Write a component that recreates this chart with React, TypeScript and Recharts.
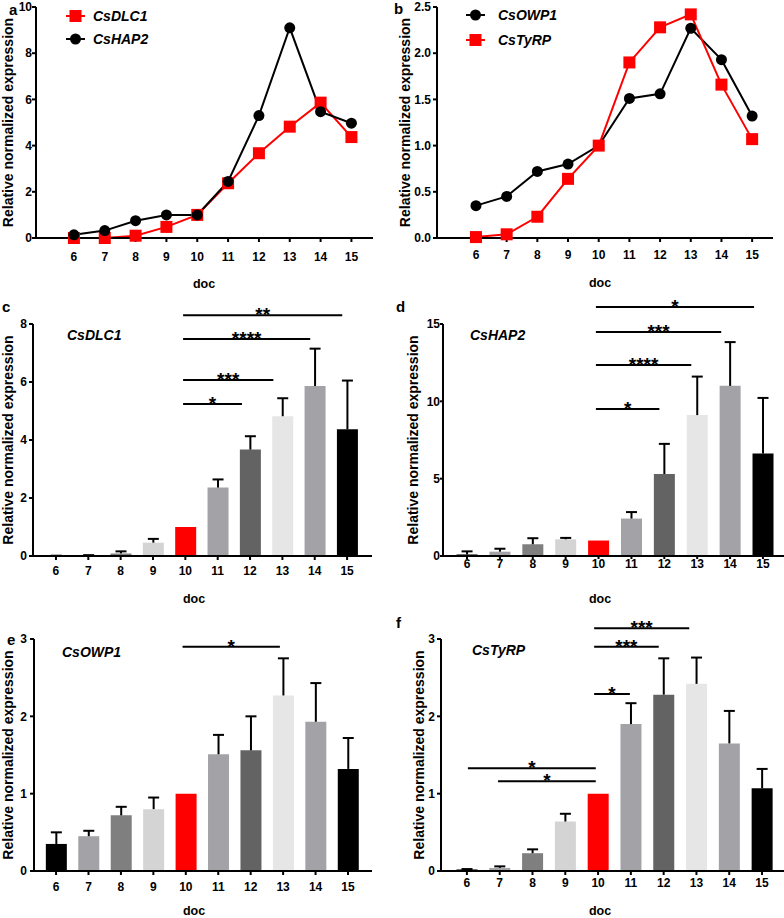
import React from "react";
import { LineChart, Line, BarChart, Bar, Cell, XAxis, YAxis, ReferenceLine, Legend } from "recharts";

const days = [6, 7, 8, 9, 10, 11, 12, 13, 14, 15];

// panel a (line)
const dlc1Line = [0, 0, 0.1, 0.48, 1.0, 2.37, 3.67, 4.82, 5.86, 4.37];
const hap2Line = [0.14, 0.32, 0.75, 1.0, 1.0, 2.45, 5.3, 9.1, 5.47, 4.97];
// panel b (line)
const owp1Line = [0.35, 0.45, 0.72, 0.8, 1.0, 1.51, 1.56, 2.27, 1.93, 1.32];
const tyrpLine = [0.01, 0.04, 0.23, 0.64, 1.0, 1.9, 2.28, 2.42, 1.66, 1.07];

// panels c-f (bars, mean + SD)
const dlc1Mean = [0.005, 0.01, 0.09, 0.46, 1.0, 2.36, 3.67, 4.82, 5.86, 4.37];
const dlc1Sd = [0.005, 0.02, 0.07, 0.13, 0, 0.28, 0.46, 0.62, 1.29, 1.68];
const hap2Mean = [0.1, 0.28, 0.76, 1.08, 1.0, 2.42, 5.3, 9.11, 11.0, 6.62];
const hap2Sd = [0.2, 0.19, 0.39, 0.09, 0, 0.42, 1.95, 2.49, 2.83, 3.6];
const owp1Mean = [0.35, 0.45, 0.72, 0.8, 1.0, 1.51, 1.56, 2.27, 1.93, 1.32];
const owp1Sd = [0.15, 0.07, 0.11, 0.15, 0, 0.25, 0.44, 0.48, 0.5, 0.4];
const tyrpMean = [0.02, 0.04, 0.23, 0.64, 1.0, 1.9, 2.28, 2.42, 1.65, 1.07];
const tyrpSd = [0.005, 0.02, 0.05, 0.1, 0, 0.27, 0.47, 0.34, 0.42, 0.25];

const barColors = ["#000000", "#a3a2a7", "#7f7f7f", "#d4d4d4", "#ff0000", "#a3a2a7", "#636363", "#e6e6e6", "#a3a2a7", "#000000"];

// significance brackets: x in doc units, y in expression units
const sigC = [
  { from: 9.93, to: 14.85, y: 8.3, stars: "**" },
  { from: 9.93, to: 13.86, y: 7.48, stars: "****" },
  { from: 9.93, to: 12.72, y: 6.07, stars: "***" },
  { from: 9.93, to: 11.75, y: 5.24, stars: "*" },
];
const sigD = [
  { from: 9.92, to: 14.73, y: 16.1, stars: "*" },
  { from: 9.92, to: 13.73, y: 14.48, stars: "***" },
  { from: 9.92, to: 12.82, y: 12.35, stars: "****" },
  { from: 9.92, to: 11.85, y: 9.5, stars: "*" },
];
const sigE = [{ from: 9.9, to: 12.9, y: 2.9, stars: "*" }];
const sigF = [
  { from: 9.88, to: 12.78, y: 3.14, stars: "***" },
  { from: 9.88, to: 11.85, y: 2.9, stars: "***" },
  { from: 9.88, to: 10.97, y: 2.29, stars: "*" },
  { from: 6.03, to: 9.93, y: 1.33, stars: "*" },
  { from: 6.95, to: 9.93, y: 1.16, stars: "*" },
];

const FONT = "'Liberation Sans', Arial, sans-serif";
const tickStyle = { fill: "#000", fontSize: 12, fontWeight: "bold" };
const yTitle = "Relative normalized expression";

const squareDot = (p: any) => (
  <rect key={`sq-${p.index}`} x={p.cx - 6} y={p.cy - 6} width={12} height={12} fill="#ff0000" />
);
const circleDot = (p: any) => <circle key={`ci-${p.index}`} cx={p.cx} cy={p.cy} r={5.5} fill="#000" />;

const legendContent = (textX: number, rowGap: number) => (props: any) => (
  <svg width={140} height={54} style={{ overflow: "visible" }}>
    {(props.payload || []).map((p: any, i: number) => {
      const cy = 12 + i * rowGap;
      return (
        <g key={p.value}>
          <line x1={0} x2={19} y1={cy} y2={cy} stroke={p.color} strokeWidth={2} />
          {p.type === "square" ? (
            <rect x={3.5} y={cy - 6} width={12} height={12} fill={p.color} />
          ) : (
            <circle cx={9.5} cy={cy} r={5.5} fill={p.color} />
          )}
          <text x={textX} y={cy + 5} fontSize={14} fontWeight="bold" fontStyle="italic" fill="#000">
            {p.value}
          </text>
        </g>
      );
    })}
  </svg>
);

const starLabel = (text: string) => (p: any) => {
  const vb = p.viewBox || {};
  return (
    <text x={vb.x + vb.width / 2} y={vb.y + 6} textAnchor="middle" fontSize={19} fontWeight="bold" fill="#000">
      {text}
    </text>
  );
};

function ErrorCap(props: any) {
  const { x, y, width, height } = props;
  if (!height || height <= 0) return null;
  const cx = x + width / 2;
  return (
    <g>
      <line x1={cx} x2={cx} y1={y} y2={y + height} stroke="#000" strokeWidth={2} />
      <line x1={cx - 5.5} x2={cx + 5.5} y1={y} y2={y} stroke="#000" strokeWidth={2} />
    </g>
  );
}

type BarCfg = {
  left: number;
  top: number;
  marginTop: number;
  marginRight: number;
  yWidth: number;
  xHeight: number;
  xDomain: number[];
  yDomain: number[];
  yTicks: number[];
  xTickSize: number;
  xTickMargin: number;
  yTickSize: number;
  yTickMargin: number;
  yLabelOffset: number;
  mean: number[];
  sd: number[];
  sig: { from: number; to: number; y: number; stars: string }[];
};

function BarPanel(c: BarCfg) {
  const data = days.map((d, i) => ({ doc: d, mean: c.mean[i], sd: c.sd[i] }));
  return (
    <div style={{ position: "absolute", left: c.left, top: c.top }}>
      <BarChart width={392} height={318} data={data} margin={{ top: c.marginTop, right: c.marginRight, left: 0, bottom: 0 }}>
        <XAxis
          type="number"
          dataKey="doc"
          domain={c.xDomain}
          ticks={days}
          interval={0}
          height={c.xHeight}
          stroke="#000"
          strokeWidth={2}
          tickSize={c.xTickSize}
          tickMargin={c.xTickMargin}
          tick={tickStyle}
        />
        <YAxis
          type="number"
          domain={c.yDomain}
          ticks={c.yTicks}
          interval={0}
          width={c.yWidth}
          stroke="#000"
          strokeWidth={2}
          tickSize={c.yTickSize}
          tickMargin={c.yTickMargin}
          tick={tickStyle}
          label={{
            value: yTitle,
            angle: -90,
            position: "insideLeft",
            offset: c.yLabelOffset,
            fontSize: 14,
            fontWeight: "bold",
            fill: "#000",
            style: { textAnchor: "middle" },
          }}
        />
        <Bar dataKey="mean" stackId="s" barSize={21} isAnimationActive={false}>
          {data.map((d, i) => (
            <Cell key={d.doc} fill={barColors[i]} />
          ))}
        </Bar>
        <Bar dataKey="sd" stackId="s" barSize={21} isAnimationActive={false} shape={ErrorCap} />
        {c.sig.map((s, i) => (
          <ReferenceLine
            key={i}
            segment={[
              { x: s.from, y: s.y },
              { x: s.to, y: s.y },
            ]}
            ifOverflow="visible"
            stroke="#000"
            strokeWidth={2}
            label={starLabel(s.stars)}
          />
        ))}
      </BarChart>
    </div>
  );
}

export default function App() {
  const dataA = days.map((d, i) => ({ doc: d, CsDLC1: dlc1Line[i], CsHAP2: hap2Line[i] }));
  const dataB = days.map((d, i) => ({ doc: d, CsOWP1: owp1Line[i], CsTyRP: tyrpLine[i] }));

  const overlayText = [
    { t: "a", x: 9, y: 15, size: 15, italic: false, anchor: "start" },
    { t: "b", x: 394, y: 14, size: 15, italic: false, anchor: "start" },
    { t: "c", x: 2, y: 312, size: 15, italic: false, anchor: "start" },
    { t: "d", x: 396, y: 312, size: 15, italic: false, anchor: "start" },
    { t: "e", x: 7, y: 645, size: 15, italic: false, anchor: "start" },
    { t: "f", x: 396, y: 628, size: 15, italic: false, anchor: "start" },
    { t: "CsDLC1", x: 67, y: 340, size: 14, italic: true, anchor: "start" },
    { t: "CsHAP2", x: 470, y: 340, size: 14, italic: true, anchor: "start" },
    { t: "CsOWP1", x: 62, y: 657, size: 14, italic: true, anchor: "start" },
    { t: "CsTyRP", x: 472, y: 655, size: 14, italic: true, anchor: "start" },
    { t: "doc", x: 204, y: 288, size: 12.5, italic: false, anchor: "middle" },
    { t: "doc", x: 600, y: 287, size: 12.5, italic: false, anchor: "middle" },
    { t: "doc", x: 194, y: 603, size: 12.5, italic: false, anchor: "middle" },
    { t: "doc", x: 600, y: 603, size: 12.5, italic: false, anchor: "middle" },
    { t: "doc", x: 194, y: 915, size: 12.5, italic: false, anchor: "middle" },
    { t: "doc", x: 600, y: 915, size: 12.5, italic: false, anchor: "middle" },
  ];

  return (
    <div style={{ position: "absolute", left: 0, top: 0, width: 784, height: 918, background: "#fff", fontFamily: FONT, overflow: "hidden" }}>
      {/* a */}
      <div style={{ position: "absolute", left: 0, top: 0 }}>
        <LineChart width={392} height={290} data={dataA} margin={{ top: 7, right: 19, left: 0, bottom: 0 }}>
          <XAxis type="number" dataKey="doc" domain={[4.77, 15.7]} ticks={days} interval={0} height={52} stroke="#000" strokeWidth={2} tickSize={4} tickMargin={10} tick={tickStyle} />
          <YAxis
            type="number"
            domain={[0, 10]}
            ticks={[0, 2, 4, 6, 8, 10]}
            interval={0}
            width={36}
            stroke="#000"
            strokeWidth={2}
            tickSize={4}
            tickMargin={0}
            tick={tickStyle}
            label={{ value: yTitle, angle: -90, position: "insideLeft", offset: 8, fontSize: 14, fontWeight: "bold", fill: "#000", style: { textAnchor: "middle" } }}
          />
          <Legend layout="vertical" align="center" verticalAlign="middle" wrapperStyle={{ left: 66, top: 4, width: 150 }} content={legendContent(27, 23)} />
          <Line dataKey="CsDLC1" type="linear" stroke="#ff0000" strokeWidth={2} dot={squareDot} legendType="square" isAnimationActive={false} />
          <Line dataKey="CsHAP2" type="linear" stroke="#000" strokeWidth={2} dot={circleDot} legendType="circle" isAnimationActive={false} />
        </LineChart>
      </div>
      {/* b */}
      <div style={{ position: "absolute", left: 392, top: 0 }}>
        <LineChart width={392} height={290} data={dataB} margin={{ top: 7, right: 11, left: 0, bottom: 0 }}>
          <XAxis type="number" dataKey="doc" domain={[4.73, 15.68]} ticks={days} interval={0} height={52} stroke="#000" strokeWidth={2} tickSize={4} tickMargin={8} tick={tickStyle} />
          <YAxis
            type="number"
            domain={[0, 2.5]}
            ticks={[0, 0.5, 1, 1.5, 2, 2.5]}
            interval={0}
            width={45}
            stroke="#000"
            strokeWidth={2}
            tickSize={4}
            tickMargin={2}
            tick={tickStyle}
            tickFormatter={(v: number) => v.toFixed(1)}
            label={{ value: yTitle, angle: -90, position: "insideLeft", offset: 13, fontSize: 14, fontWeight: "bold", fill: "#000", style: { textAnchor: "middle" } }}
          />
          <Legend layout="vertical" align="center" verticalAlign="middle" wrapperStyle={{ left: 74, top: 3, width: 150 }} content={legendContent(32, 25)} />
          <Line dataKey="CsOWP1" type="linear" stroke="#000" strokeWidth={2} dot={circleDot} legendType="circle" isAnimationActive={false} />
          <Line dataKey="CsTyRP" type="linear" stroke="#ff0000" strokeWidth={2} dot={squareDot} legendType="square" isAnimationActive={false} />
        </LineChart>
      </div>
      <BarPanel left={0} top={290} marginTop={34} marginRight={20} yWidth={33} xHeight={52} xDomain={[5.29, 15.77]} yDomain={[0, 8]} yTicks={[0, 2, 4, 6, 8]} xTickSize={4} xTickMargin={6} yTickSize={4} yTickMargin={2} yLabelOffset={8} mean={dlc1Mean} sd={dlc1Sd} sig={sigC} />
      <BarPanel left={392} top={290} marginTop={34} marginRight={0} yWidth={51} xHeight={52} xDomain={[5.27, 15.64]} yDomain={[0, 15]} yTicks={[0, 5, 10, 15]} xTickSize={3} xTickMargin={0} yTickSize={3} yTickMargin={0} yLabelOffset={21} mean={hap2Mean} sd={hap2Sd} sig={sigD} />
      <BarPanel left={0} top={600} marginTop={39} marginRight={20} yWidth={34} xHeight={47} xDomain={[5.32, 15.74]} yDomain={[0, 3]} yTicks={[0, 1, 2, 3]} xTickSize={4} xTickMargin={7} yTickSize={4} yTickMargin={3} yLabelOffset={8} mean={owp1Mean} sd={owp1Sd} sig={sigE} />
      <BarPanel left={392} top={600} marginTop={39} marginRight={0} yWidth={49} xHeight={47} xDomain={[5.21, 15.67]} yDomain={[0, 3]} yTicks={[0, 1, 2, 3]} xTickSize={4} xTickMargin={3} yTickSize={4} yTickMargin={2} yLabelOffset={27} mean={tyrpMean} sd={tyrpSd} sig={sigF} />
      <svg width={784} height={918} style={{ position: "absolute", left: 0, top: 0, pointerEvents: "none" }}>
        {overlayText.map((o, i) => (
          <text key={i} x={o.x} y={o.y} fontSize={o.size} fontWeight="bold" fontStyle={o.italic ? "italic" : "normal"} textAnchor={o.anchor} fill="#000">
            {o.t}
          </text>
        ))}
      </svg>
    </div>
  );
}
